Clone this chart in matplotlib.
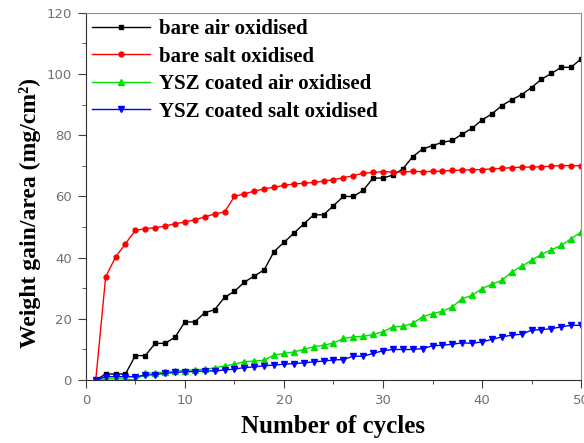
import matplotlib
matplotlib.use("Agg")
from matplotlib import pyplot as plt
from matplotlib.ticker import MultipleLocator

cycles = list(range(1, 51))

bare_air = [0, 2, 2, 2, 8, 8, 12, 12, 14, 19,
            19, 22, 23, 27, 29, 32, 34, 36, 42, 45,
            48, 51, 54, 54, 57, 60, 60, 62, 66, 66,
            67, 69, 73, 75.5, 76.6, 77.7, 78.3, 80.4, 82.3, 85,
            87, 89.7, 91.6, 93.3, 95.6, 98.3, 100.2, 102.2, 102.2, 105]

bare_salt = [0, 33.7, 40.2, 44.6, 48.9, 49.5, 49.8, 50.3, 51.1, 51.6,
             52.4, 53.3, 54.3, 54.9, 60, 60.9, 61.7, 62.5, 63, 63.6,
             64.1, 64.3, 64.6, 65, 65.5, 66.1, 66.8, 67.6, 67.9, 68.1,
             68, 68, 68.2, 68.1, 68.2, 68.3, 68.5, 68.6, 68.7, 68.8,
             69, 69.2, 69.4, 69.6, 69.6, 69.7, 69.9, 70.1, 70.1, 70]

ysz_air = [0, 0.4, 0.4, 0.4, 0, 2.2, 2.4, 2.6, 3, 3.1,
           3.4, 3.5, 4, 4.6, 5.2, 6, 6.2, 6.5, 8.2, 8.7,
           9.2, 10, 10.9, 11.4, 12.1, 13.6, 14.1, 14.3, 14.9, 15.8,
           17.4, 17.6, 18.5, 20.7, 21.7, 22.5, 23.9, 26.6, 27.7, 29.9,
           31.3, 32.6, 35.3, 37.2, 39.1, 41.1, 42.6, 44, 46.2, 48.4]

ysz_salt = [0, 1.1, 1.1, 1.1, 1.1, 1.6, 1.8, 2.2, 2.5, 2.7,
            2.8, 3, 3, 3.3, 3.6, 4.1, 4.3, 4.7, 4.9, 5.2,
            5.4, 5.6, 6, 6.2, 6.6, 6.7, 7.8, 7.8, 8.7, 9.6,
            10, 10, 10, 10.3, 11.2, 11.4, 11.7, 12.2, 12, 12.5,
            13.3, 14.1, 14.7, 15, 16.3, 16.5, 16.8, 17.4, 17.9, 17.9]

fig = plt.figure(figsize=(5.84, 4.43), dpi=100)
ax = fig.add_axes([0.147, 0.142, 0.848, 0.829])

ax.plot(cycles, bare_air, color="black", marker="s", markersize=3.5, linewidth=1, label="bare air oxidised")
ax.plot(cycles, bare_salt, color="red", marker="o", markersize=3.5, linewidth=1, label="bare salt oxidised")
ax.plot(cycles, ysz_air, color="#00dd00", marker="^", markersize=4.5, linewidth=1, label="YSZ coated air oxidised")
ax.plot(cycles, ysz_salt, color="blue", marker="v", markersize=4.5, linewidth=1, label="YSZ coated salt oxidised")

ax.set_xlim(0, 50)
ax.set_ylim(0, 120)
ax.xaxis.set_major_locator(MultipleLocator(10))
ax.xaxis.set_minor_locator(MultipleLocator(5))
ax.yaxis.set_major_locator(MultipleLocator(20))
ax.yaxis.set_minor_locator(MultipleLocator(10))
ax.tick_params(which="both", direction="out", labelsize=9.5, labelcolor="#707070", color="#404040", pad=4.5)
ax.tick_params(which="major", length=5.5)
ax.tick_params(which="minor", length=3)
for side in ["top", "right"]:
    ax.spines[side].set_color("#909090")
for side in ["left", "bottom"]:
    ax.spines[side].set_color("#303030")

ax.set_xlabel("Number of cycles", family="Liberation Serif", fontweight="bold", fontsize=18, labelpad=6)
ax.set_ylabel("Weight gain/area (mg/cm²)", family="Liberation Serif", fontweight="bold", fontsize=17)
ax.yaxis.set_label_coords(-0.09, 0.455)

ax.legend(loc="upper left", frameon=False, handlelength=2.8, handletextpad=0.4, borderaxespad=0.0,
          labelspacing=0.36, borderpad=0.3,
          prop={"family": "Liberation Serif", "weight": "bold", "size": 15})

fig.savefig("out.png", dpi=100)
